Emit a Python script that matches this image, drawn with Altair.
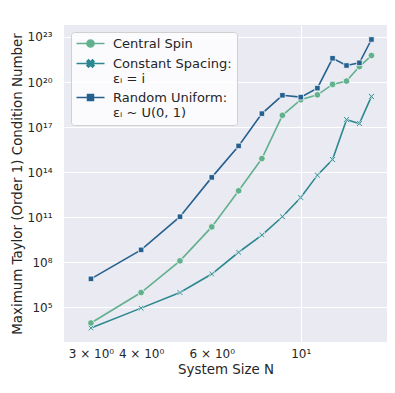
import json
import altair as alt
import pandas as pd

# ---- data ----
N = list(range(3, 16))
central_spin = [8.7e3, 9.3e5, 1.2e8, 2.2e10, 5.6e12, 7.9e14, 6.0e17, 6.6e18,
                1.4e19, 6.9e19, 1.15e20, 1.07e21, 5.8e21]
constant_spacing = [4.0e3, 8.5e4, 9.3e5, 1.6e7, 4.5e8, 6.3e9, 1.05e11, 2.0e12,
                    6.2e13, 6.8e14, 3.1e17, 1.7e17, 1.1e19]
random_uniform = [7.6e6, 6.5e8, 1.05e11, 4.4e13, 5.5e15, 7.8e17, 1.3e19, 9.8e18,
                  3.9e19, 3.8e21, 1.26e21, 1.9e21, 6.8e22]

series = ["Central Spin", "Constant Spacing", "Random Uniform"]
legend_text = [["Central Spin"], ["Constant Spacing:", "εᵢ = i"], ["Random Uniform:", "εᵢ ~ U(0, 1)"]]
colors = ["#63b08f", "#2c8890", "#25608e"]

x_ticks = [3, 4, 6, 10]
x_tick_labels = ["3 × 10⁰", "4 × 10⁰", "6 × 10⁰", "10¹"]
y_tick_exps = [5, 8, 11, 14, 17, 20, 23]

# ---- build table ----
rows = []
for name, vals in zip(series, [central_spin, constant_spacing, random_uniform]):
    for n, v in zip(N, vals):
        rows.append({"N": n, "value": v, "series": name, "style": name})
df = pd.DataFrame(rows)

SUP = str.maketrans("0123456789", "⁰¹²³⁴⁵⁶⁷⁸⁹")
y_label_expr = ""
for e in y_tick_exps:
    y_label_expr += f"round(log(datum.value)/LN10) == {e} ? '10{str(e).translate(SUP)}' : "
y_label_expr += "''"

x_label_expr = ""
for t, lab in zip(x_ticks, x_tick_labels):
    x_label_expr += f"abs(datum.value - {t}) < 0.01 ? '{lab}' : "
x_label_expr += "''"

legend_label_expr = ""
for s, lines in zip(series, legend_text):
    legend_label_expr += f"datum.label == '{s}' ? {json.dumps(lines, ensure_ascii=False)} : "
legend_label_expr += "datum.label"

marker_paths = {
    "Central Spin": "M-3.5,0H3.5M0.9,0A0.9,0.9,0,1,1,-0.9,0A0.9,0.9,0,1,1,0.9,0Z",
    "Constant Spacing": "M-3.5,0H3.5M-0.9,-0.5L-0.5,-0.9L0,-0.4L0.5,-0.9L0.9,-0.5L0.4,0L0.9,0.5L0.5,0.9L0,0.4L-0.5,0.9L-0.9,0.5L-0.4,0Z",
    "Random Uniform": "M-3.5,0H3.5M-0.75,-0.75H0.75V0.75H-0.75Z",
}
sym_expr = ""
col_expr = ""
for s, c in zip(series, colors):
    sym_expr += f"datum.value == '{s}' ? '{marker_paths[s]}' : "
    col_expr += f"datum.value == '{s}' ? '{c}' : "
sym_expr += "'circle'"
col_expr += "'black'"

x_path = "M-1,-0.7L-0.7,-1L0,-0.3L0.7,-1L1,-0.7L0.3,0L1,0.7L0.7,1L0,0.3L-0.7,1L-1,0.7L-0.3,0Z"

FONT = "DejaVu Sans"
TXT = "#262626"

x_enc = alt.X(
    "N:Q",
    scale=alt.Scale(type="log", domain=[2.57, 16.4], nice=False),
    axis=alt.Axis(
        values=x_ticks, labelExpr=x_label_expr, title="System Size N",
        grid=True, gridColor="white", gridWidth=1.1,
        gridOpacity={"condition": {"test": "abs(datum.value - 10) < 0.01", "value": 1}, "value": 0},
        ticks=False, domain=False, labelPadding=6, titlePadding=3,
        labelFlush=False, labelOverlap=False,
    ),
)
y_enc = alt.Y(
    "value:Q",
    scale=alt.Scale(type="log", domain=[470, 6.3e23], nice=False),
    axis=alt.Axis(
        values=[10.0 ** e for e in y_tick_exps], labelExpr=y_label_expr,
        title="Maximum Taylor (Order 1) Condition Number",
        grid=True, gridColor="white", gridWidth=1.1,
        ticks=False, domain=False, labelPadding=12, titlePadding=3,
        labelOverlap=False,
    ),
)

line = alt.Chart(df).mark_line(strokeWidth=1.6).encode(
    x=x_enc, y=y_enc,
    stroke=alt.Stroke("style:N", scale=alt.Scale(range=colors), legend=None),
)

points = alt.Chart(df).mark_point(filled=True, stroke="white", strokeWidth=0.7, opacity=1).encode(
    x=x_enc, y=y_enc,
    color=alt.Color(
        "series:N", scale=alt.Scale(domain=series, range=colors),
        legend=alt.Legend(
            title=None, orient="top-left", offset=7,
            fillColor="rgba(255,255,255,0.8)", strokeColor="#d0d0d0", cornerRadius=3,
            padding=5, labelFont=FONT, labelFontSize=13, labelColor=TXT,
            labelExpr=legend_label_expr,
            symbolType=alt.ExprRef(expr=sym_expr),
            symbolStrokeColor=alt.ExprRef(expr=col_expr),
            symbolSize=64, symbolStrokeWidth=1.5, symbolOffset=8, labelOffset=16,
            rowPadding=5,
        ),
    ),
    shape=alt.Shape("style:N", scale=alt.Scale(range=["circle", x_path, "square"]), legend=None),
    size=alt.Size("style:N", scale=alt.Scale(range=[44, 30, 28]), legend=None),
)

chart = alt.layer(line, points).properties(
    width=323, height=317,
    autosize=alt.AutoSizeParams(type="none"),
    padding={"left": 56, "top": 17, "right": 0, "bottom": 43},
    background="white",
).configure_view(
    fill="#EAEAF2", stroke=None,
).configure_axis(
    labelFont=FONT, labelFontSize=12, labelColor=TXT,
    titleFont=FONT, titleFontSize=13.4, titleColor=TXT, titleFontWeight="normal",
)

chart.save("out.html", embed_options={"renderer": "svg", "actions": False})
